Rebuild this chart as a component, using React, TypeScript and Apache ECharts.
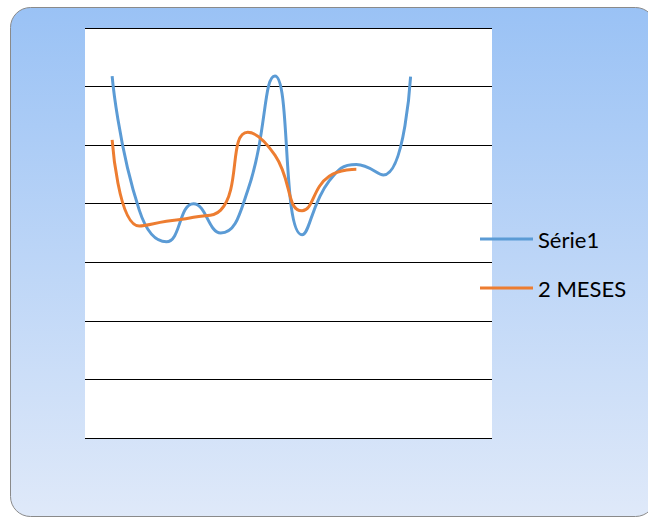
import React, { useEffect, useRef } from "react";
import * as echarts from "echarts";

const categories = ["0", "1", "2", "3", "4", "5", "6", "7", "8", "9", "10", "11", "12", "13", "14", "15"];
const serie1 = [null, 61.8, 38.9, 33.5, 40.0, 35.0, 42.3, 61.8, 34.7, 43.9, 46.7, 44.9, 61.7, null, null, null];
const meses2 = [null, 50.9, 36.2, 37.0, 37.7, 38.9, 52.2, 48.3, 38.8, 44.7, 45.9, null, null, null, null, null];
const seriesNames = ["Série1", "2 MESES"];

export default function App() {
  const ref = useRef<HTMLDivElement>(null);
  useEffect(() => {
    document.body.style.margin = "0";
    const chart = echarts.init(ref.current!, null, { renderer: "svg" });
    chart.setOption({
      animation: false,
      graphic: {
        elements: [
          {
            type: "rect",
            z: -100,
            shape: { x: 10.5, y: 7.5, width: 645, height: 509, r: 20 },
            style: {
              fill: new echarts.graphic.LinearGradient(0, 0, 0, 1, [
                { offset: 0, color: "#9ac2f5" },
                { offset: 1, color: "#dfe9f9" },
              ]),
              stroke: "#8a8a8a",
              lineWidth: 1,
            },
          },
        ],
      },
      grid: {
        left: 85,
        right: 156,
        top: 28,
        bottom: 80,
        show: true,
        backgroundColor: "#ffffff",
        borderWidth: 0,
      },
      legend: {
        orient: "vertical",
        left: 480,
        top: 226,
        padding: 0,
        itemWidth: 53,
        itemHeight: 3,
        itemGap: 23,
        icon: "rect",
        data: seriesNames,
        textStyle: {
          fontFamily: "Lato",
          fontSize: 22,
          color: "#000",
          lineHeight: 26,
          padding: [0, 0, 0, 0],
        },
      },
      xAxis: {
        type: "category",
        data: categories,
        boundaryGap: false,
        axisLine: { show: false },
        axisTick: { show: false },
        axisLabel: { show: false },
        splitLine: { show: false },
      },
      yAxis: {
        type: "value",
        min: 0,
        max: 70,
        interval: 10,
        axisLine: { show: false },
        axisTick: { show: false },
        axisLabel: { show: false },
        splitLine: { show: true, lineStyle: { color: "#000", width: 1 } },
      },
      series: [
        {
          name: seriesNames[0],
          type: "line",
          data: serie1,
          smooth: 0.5,
          showSymbol: false,
          symbol: "none",
          lineStyle: { color: "#5b9bd5", width: 3 },
          itemStyle: { color: "#5b9bd5" },
        },
        {
          name: seriesNames[1],
          type: "line",
          data: meses2,
          smooth: 0.5,
          showSymbol: false,
          symbol: "none",
          lineStyle: { color: "#ed7d31", width: 3 },
          itemStyle: { color: "#ed7d31" },
        },
      ],
    });
    return () => chart.dispose();
  }, []);
  return <div ref={ref} style={{ width: 648, height: 518 }} />;
}
